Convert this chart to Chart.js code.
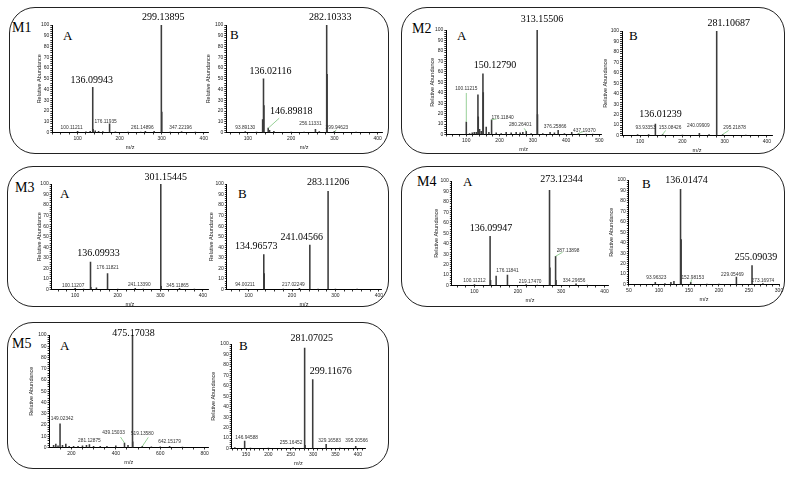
<!DOCTYPE html>
<html>
<head>
<meta charset="utf-8">
<script src="https://cdn.jsdelivr.net/npm/chart.js@4.4.1/dist/chart.umd.min.js"></script>
<style>
  body { margin: 0; background: #fff; }
  #fig { position: relative; width: 794px; height: 478px; overflow: hidden; background: #fff; }
  .box { position: absolute; border: 1px solid #222; border-radius: 26px; box-sizing: border-box; }
  .tag { position: absolute; font-family: "Liberation Serif", "Times New Roman", serif; color: #000; line-height: 1; white-space: nowrap; }
</style>
</head>
<body>
<div id="fig"></div>
<script>
// peak lists: m/z and relative abundance (%)
const m1aMz = [100.11211, 120, 130, 136.09943, 137.1, 142, 150, 160, 176.11935, 190, 220, 250, 261.14896, 282, 299.13895, 300.14, 320, 347.22196, 380];
const m1aAb = [1.2, 0.6, 1, 42, 3, 1.5, 1, 0.8, 8, 0.6, 0.5, 0.5, 1, 1, 100, 19, 0.5, 0.8, 0.4];

const m1bMz = [93.8913, 120, 134, 136.02116, 137.02, 146.89818, 150, 160, 200, 230, 256.11331, 265, 282.10333, 283.1, 299.94623, 350];
const m1bAb = [0.8, 0.5, 12, 50, 25, 4, 2, 1, 0.5, 0.5, 3, 0.8, 100, 54, 1, 0.3];

const m2aMz = [100.11215, 110, 118, 124, 130, 135.1, 136.1, 140, 145, 150.1279, 151.13, 160, 168, 176.1184, 190, 205, 220, 235, 250, 262, 270, 280.26401, 295, 313.15506, 314.16, 330, 352, 365, 376.25866, 395, 417, 437.1937, 460, 480];
const m2aAb = [12, 1, 1.5, 2, 2, 38, 17, 5, 3, 58, 40, 7, 2, 14, 1.5, 1, 2, 1.5, 2, 1.5, 2, 3, 1, 100, 19, 1, 2, 1.5, 4, 1, 2, 1, 0.5, 0.5];

const m2bMz = [93.93353, 120, 136.01239, 153.08426, 200, 240.09909, 263, 281.10687, 295.21878, 350];
const m2bAb = [1, 1, 11, 1, 0.5, 2, 1, 100, 1, 0.3];

const m3aMz = [100.11207, 120, 136.09933, 137.1, 150, 176.11821, 200, 241.1339, 260, 301.15445, 302.16, 345.11865, 380];
const m3aAb = [1, 0.5, 26, 2, 1.5, 15, 0.5, 1, 0.5, 100, 3, 1, 0.3];

const m3bMz = [94.00211, 134.96573, 135.97, 180, 217.02249, 241.04566, 260, 283.11206, 300, 350];
const m3bAb = [0.5, 33, 15, 0.3, 1, 42, 0.5, 93, 0.3, 0.3];

const m4aMz = [100.11212, 136.09947, 137.1, 150, 176.11841, 219.1747, 245, 273.12344, 274.13, 287.13898, 288.14, 334.29656, 360];
const m4aAb = [1, 47, 5, 9, 10, 1, 0.5, 91, 17, 28, 5, 1.5, 0.5];

const m4bMz = [93.96323, 110, 120, 125, 136.01474, 137.02, 152.98153, 180, 200, 229.05469, 255.09039, 273.16974];
const m4bAb = [2, 1, 2, 3, 91, 43, 2, 0.5, 0.5, 7, 18, 1];

const m5aMz = [120, 130, 140, 149.02342, 160, 175, 190, 210, 230, 250, 268, 281.12875, 300, 330, 360, 400, 439.15033, 455, 475.17038, 476.17, 519.1358, 560, 600, 642.15179, 700];
const m5aAb = [2, 3, 1.5, 21, 2, 3, 1, 1, 1, 1.5, 2, 2.5, 1, 1, 1, 1.5, 4, 2, 100, 5, 1, 0.5, 0.5, 1, 0.3];

const m5bMz = [125, 146.94588, 160, 200, 255.16452, 281.07025, 282.07, 299.11676, 329.16583, 360, 395.20566];
const m5bAb = [1, 7, 0.5, 0.5, 1, 96, 3, 66, 4, 0.5, 2];

const fig = document.getElementById('fig');

// panel frames and letters
const boxes = [[9, 7, 380, 147], [401, 7, 384, 147], [7, 166, 382, 141], [401, 166, 384, 141], [7, 322, 382, 147]];
boxes.forEach(([l, t, w, h]) => {
  const d = document.createElement('div');
  d.className = 'box';
  d.style.cssText = `left:${l}px;top:${t}px;width:${w}px;height:${h}px`;
  fig.appendChild(d);
});

const letters = [
  ['M1', 12, 27.5, 14], ['M2', 412, 29, 14], ['M3', 15, 188, 14], ['M4', 417, 181.5, 14], ['M5', 12, 344, 14],
  ['A', 63, 35.5, 13], ['B', 230, 34, 13], ['A', 457, 35.5, 13], ['B', 629, 35, 13],
  ['A', 60, 193, 13], ['B', 238, 193, 13], ['A', 463, 181, 13], ['B', 642, 183, 13],
  ['A', 60, 345, 13], ['B', 239, 345.5, 13]
];
letters.forEach(([txt, x, cy, size]) => {
  const d = document.createElement('div');
  d.className = 'tag';
  d.textContent = txt;
  d.style.cssText = `left:${x}px;top:${cy - size / 2}px;font-size:${size}px`;
  fig.appendChild(d);
});

// plot boxes (L,R,T,B) in page pixels, axis ranges and the peak tags
const panels = [
  { mz: m1aMz, ab: m1aAb, L: 52, R: 208, T: 25, B: 132, min: 40, max: 410, major: 100, minor: 20, gap: 13,
    tags: [[299.13895, 'big', 2, -5], [136.09943, 'big', -1, -4], [176.11935, 'small', -4, -2.5],
           [100.11211, 'small', -6, -4], [261.14896, 'small', -3, -4], [347.22196, 'small', -1, -4]] },
  { mz: m1bMz, ab: m1bAb, L: 226, R: 382, T: 25, B: 132, min: 50, max: 410, major: 100, minor: 20, gap: 18,
    tags: [[282.10333, 'big', 3.5, -5.5], [136.02116, 'big', 7, -5], [146.89818, 'big', 23, -14, [11, -10]],
           [93.8913, 'small', 0, -3.6], [256.11331, 'small', -5, -6], [299.94623, 'small', 2.5, -3.3, [2, -1.5]]] },
  { mz: m2aMz, ab: m2aAb, L: 446, R: 601, T: 30, B: 134.5, min: 40, max: 505, major: 100, minor: 20, gap: 14,
    tags: [[313.15506, 'big', 4.7, -8], [150.1279, 'big', 12, -5.6], [100.11215, 'small', 0, -33, [0, -29]],
           [176.1184, 'small', 11, -2.6, [5, -1]], [280.26401, 'small', -6, -6.4, [-2, -3]],
           [376.25866, 'small', -3, -3.6], [437.1937, 'small', 6, -3, [5, -2]]] },
  { mz: m2bMz, ab: m2bAb, L: 621.7, R: 771.7, T: 30.7, B: 135, min: 57, max: 412, major: 100, minor: 20, gap: 16.7,
    tags: [[281.10687, 'big', 12, -4.7], [136.01239, 'big', 5, -7.5], [93.93353, 'small', 8, -7],
           [153.08426, 'small', 7.5, -7, [3, -4]], [240.09909, 'small', -1, -8], [295.21878, 'small', 12, -7, [6, -4]]] },
  { mz: m3aMz, ab: m3aAb, L: 51.7, R: 208.3, T: 184.3, B: 290, min: 45, max: 412, major: 100, minor: 20, gap: 12.4,
    tags: [[301.15445, 'big', 5, -3.6], [136.09933, 'big', 8, -6], [176.11821, 'small', 0, -6],
           [100.11207, 'small', -2, -3], [241.1339, 'small', 4, -4], [345.11865, 'small', -2, -3]] },
  { mz: m3bMz, ab: m3bAb, L: 227.3, R: 381.7, T: 184, B: 289.3, min: 50, max: 405, major: 100, minor: 20, gap: 15.6,
    tags: [[283.11206, 'big', 0, -6.4], [241.04566, 'big', -8, -5], [134.96573, 'big', -7.6, -5.3],
           [94.00211, 'small', -1, -4.5], [217.02249, 'small', -6, -4]] },
  { mz: m4aMz, ab: m4aAb, L: 452.3, R: 608.3, T: 181, B: 285, min: 48, max: 408, major: 100, minor: 20, gap: 15.6,
    tags: [[273.12344, 'big', 12, -8.7], [136.09947, 'big', 1, -5], [287.13898, 'small', 12.4, -6, [7, -4]],
           [176.11841, 'small', 0, -4.6], [100.11212, 'small', 0, -3.3], [219.1747, 'small', 4, -2.3],
           [334.29656, 'small', -2, -3.6]] },
  { mz: m4bMz, ab: m4bAb, L: 629.3, R: 779.3, T: 180, B: 284.3, min: 50, max: 300, major: 50, minor: 10, gap: 17.6,
    tags: [[136.01474, 'big', 6, -6], [255.09039, 'big', 4, -5.5], [93.96323, 'small', 1, -5],
           [152.98153, 'small', 2, -5, [1, -3]], [229.05469, 'small', -4, -3], [273.16974, 'small', 0, -2.6]] },
  { mz: m5aMz, ab: m5aAb, L: 50, R: 208.3, T: 335, B: 447.3, min: 102, max: 815, major: 200, minor: 50, gap: 18.3,
    tags: [[475.17038, 'big', 1, 1], [149.02342, 'small', 2, -4.7], [281.12875, 'small', 0, -4.3],
           [439.15033, 'small', -11, -10, [-4, -6]], [519.1358, 'small', 0, -13, [6, -9]], [642.15179, 'small', 0, -4.3]] },
  { mz: m5bMz, ab: m5bAb, L: 231.7, R: 365, T: 344.3, B: 449, min: 118, max: 416, major: 50, minor: 10, gap: 18.4,
    tags: [[281.07025, 'big', 7, -7], [299.11676, 'big', 18, -6], [146.94588, 'small', 2, -4],
           [255.16452, 'small', -2, -4.7], [329.16583, 'small', 3.5, -4], [395.20566, 'small', 1, -6]] }
];

const tickFont = { family: '"Liberation Sans", Arial, sans-serif', size: 5 };
const titleFont = { family: '"Liberation Sans", Arial, sans-serif', size: 5.5 };

function makeChart(p) {
  const yw = p.gap + 3.3;
  const xh = 18.5;
  const padTop = 24, padRight = 10;
  const left = p.L - yw, top = p.T - padTop;
  const width = Math.round(yw + (p.R - p.L) + padRight);
  const height = Math.round(padTop + (p.B - p.T) + xh);

  const cv = document.createElement('canvas');
  cv.width = width;
  cv.height = height;
  cv.style.cssText = `position:absolute;left:${left}px;top:${top}px;width:${width}px;height:${height}px`;
  fig.appendChild(cv);

  const tagPlugin = {
    id: 'peakTags',
    afterDatasetsDraw(chart) {
      const { ctx, scales: { x, y } } = chart;
      const pts = chart.data.datasets[0].data;
      p.tags.forEach(([mz, kind, dx, dy, lead]) => {
        const pt = pts.find(d => d.x === mz);
        const px = x.getPixelForValue(mz);
        const py = y.getPixelForValue(pt.y);
        ctx.save();
        if (lead) {
          ctx.strokeStyle = '#7cc47c';
          ctx.lineWidth = 0.8;
          ctx.beginPath();
          ctx.moveTo(px, py);
          ctx.lineTo(px + lead[0], py + lead[1]);
          ctx.stroke();
        }
        ctx.textAlign = 'center';
        if (kind === 'big') {
          ctx.font = '10px "Liberation Serif", "Times New Roman", serif';
          ctx.textBaseline = 'alphabetic';
          ctx.fillStyle = '#000';
        } else {
          ctx.font = '4.8px "Liberation Sans", Arial, sans-serif';
          ctx.textBaseline = 'middle';
          ctx.fillStyle = '#333';
        }
        ctx.fillText(mz.toFixed(5), px + dx, py + dy);
        ctx.restore();
      });
    }
  };

  new Chart(cv, {
    type: 'bar',
    data: {
      datasets: [{
        data: p.mz.map((m, i) => ({ x: m, y: p.ab[i] })),
        backgroundColor: '#3c3c3c',
        borderWidth: 0,
        barThickness: 0.9
      }]
    },
    options: {
      responsive: false,
      animation: false,
      events: [],
      layout: { padding: { top: padTop, right: padRight, left: 0, bottom: 0 } },
      plugins: { legend: { display: false }, tooltip: { enabled: false } },
      scales: {
        x: {
          type: 'linear',
          min: p.min,
          max: p.max,
          offset: false,
          afterFit: (s) => { s.height = xh; },
          afterBuildTicks: (axis) => {
            const ticks = [];
            for (let v = Math.ceil(p.min / p.minor) * p.minor; v <= p.max; v += p.minor) ticks.push({ value: v });
            axis.ticks = ticks;
          },
          border: { color: '#000', width: 1 },
          grid: { offset: false, drawOnChartArea: false, drawTicks: true, tickLength: 2, color: '#000', lineWidth: 0.8 },
          ticks: {
            autoSkip: false,
            maxRotation: 0,
            padding: 1,
            color: '#222',
            font: tickFont,
            callback: (v) => (v % p.major === 0 ? v : '')
          },
          title: { display: true, text: 'm/z', color: '#222', font: titleFont, padding: 0 }
        },
        y: {
          min: 0,
          max: 100,
          afterFit: (s) => { s.width = yw; },
          afterBuildTicks: (axis) => {
            axis.ticks = Array.from({ length: 51 }, (_, i) => ({ value: i * 2 }));
          },
          border: { color: '#000', width: 1 },
          grid: { drawOnChartArea: false, drawTicks: true, tickLength: 2, color: '#000', lineWidth: 0.8 },
          ticks: {
            autoSkip: false,
            padding: 1,
            color: '#222',
            font: tickFont,
            callback: (v) => (v % 10 === 0 ? v : '')
          },
          title: { display: true, text: 'Relative Abundance', color: '#222', font: titleFont, padding: 0 }
        }
      }
    },
    plugins: [tagPlugin]
  });
}

panels.forEach(makeChart);
</script>
</body>
</html>
